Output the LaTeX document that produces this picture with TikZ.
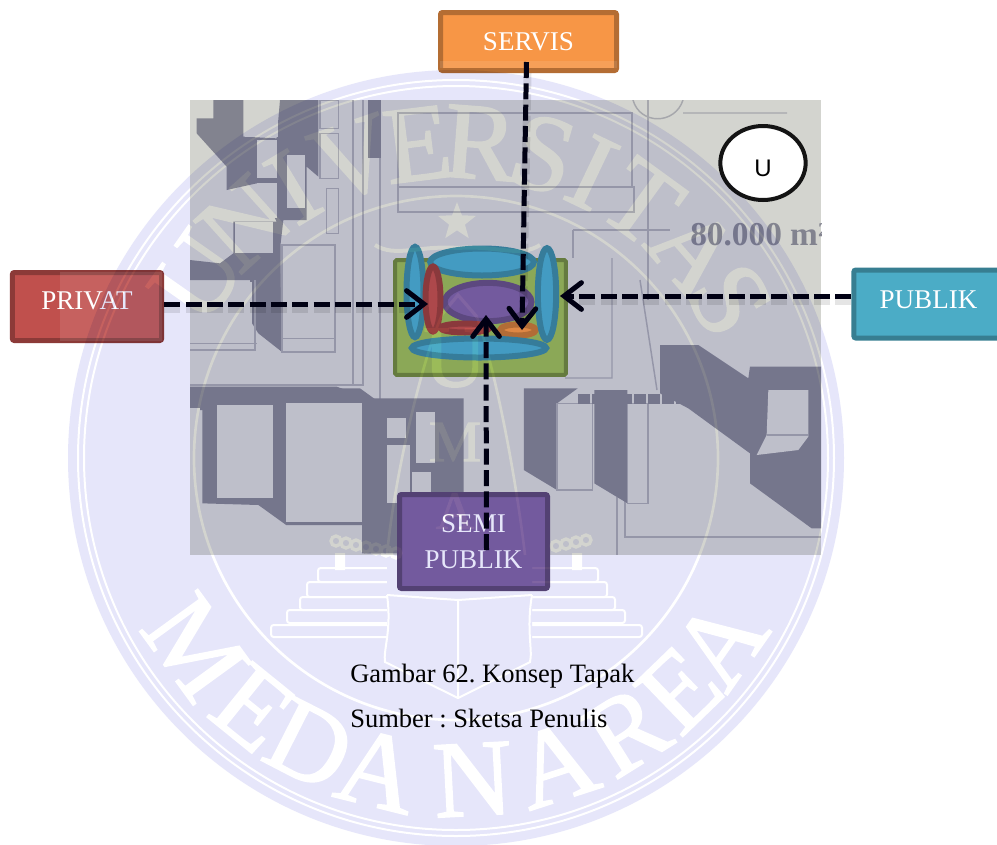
\documentclass[tikz,border=0pt]{standalone}
\usepackage{fontspec}
\setmainfont{Liberation Serif}
\newfontfamily\labelsans{Liberation Sans}
\newfontfamily\wmserif[FakeBold=1.6]{Liberation Serif}
\usepackage{xcolor}
\usepackage{tikz}
\usetikzlibrary{arrows.meta, positioning, calc, shapes.geometric}
\definecolor{photobase}{HTML}{D3D4CF}
\definecolor{photoshade}{HTML}{82838F}
\definecolor{photoline}{HTML}{A6A7AC}
\definecolor{discfill}{HTML}{E6E6FA}
\definecolor{zoneblue}{HTML}{4BACC6}
\definecolor{zonered}{HTML}{C0504D}
\definecolor{zonepurple}{HTML}{8064A2}
\definecolor{zoneorange}{HTML}{F79646}
\definecolor{zonegreen}{HTML}{9BBB59}
\tikzset{
  zonebox/.style={rectangle, rounded corners=1.5pt, line width=3.75pt, text=white,
                  font=\fontsize{20.3}{27}\selectfont, align=center, inner sep=0pt},
  zone/.style={ellipse, line width=4.5pt, inner sep=0pt},
  flow/.style={line width=3.75pt, black!92!blue, dash pattern=on 12pt off 4pt,
               -{Straight Barb[length=13pt, width=20pt, line cap=round]}},
  flowshade/.style={line width=6pt, black, opacity=0.1, dash pattern=on 12pt off 4pt},
  roadline/.style={draw=photoline, line width=1.1pt},
  wmline/.style={draw=white, line width=1.5pt},
  wmletter/.style={text=white, inner sep=0pt, font=\wmserif\fontsize{82}{82}\selectfont},
}
\begin{document}
\frenchspacing
\begin{tikzpicture}[x=0.75pt, y=-0.75pt]
  \useasboundingbox (0,0) rectangle (997,844);
  \clip (0,0) rectangle (997,844);
  \fill[white] (0,0) rectangle (997,844);
  % site photo
  \begin{scope}
  \clip (190,100) rectangle (821,555);
  \fill[photobase] (190,100) rectangle (821,555);
  % roads
  \draw[roadline] (353,100)--(353,385) (363,100)--(363,385) (380,100)--(380,400);
  \draw[roadline] (398,113) rectangle (632,187);
  \draw[roadline] (398,187) rectangle (634,212);
  \draw[roadline] (648,100)--(648,300) (573,230)--(670,230) (573,230)--(573,258);
  \draw[roadline] (612,258)--(612,378)--(565,378) (640,280)--(657,390);
  \draw[roadline] (683,113)--(787,113) (633,100)..controls (640,125) and (675,125)..(683,100);
  \draw[roadline] (625,407)--(625,537)--(821,537) (617,497)--(617,555);
  \draw[roadline] (190,385)--(363,385)--(363,240);
  % top left block
  \begin{scope}[shift={(190,90)}, x=0.25pt, y=-0.25pt]
  \fill[photoshade] (20,85)--(70,85)--(70,30)--(160,30)--(160,140)--(260,145)--(270,30)--(385,30)
    --(385,260)--(350,230)--(350,390)--(280,390)--(272,460)--(272,720)--(215,720)--(180,600)
    --(190,570)--(0,570)--(0,510)--(90,520)--(130,490)--(130,395)--(260,395)--(200,280)
    --(110,300)--(110,230)--(20,130)--cycle;
  \fill[photobase] (165,30) rectangle (265,140);
  \fill[photobase] (200,150) rectangle (260,265);
  \fill[photobase] (200,280) rectangle (260,385);
  \fill[photobase] (290,195) rectangle (345,355);
  \fill[photobase] (135,395) rectangle (250,490);
  \fill[photobase] (285,395) rectangle (400,455);
  \fill[photobase] (0,575) rectangle (185,720);
  \draw[roadline] (390,30) rectangle (445,115);
  \draw[roadline] (390,130) rectangle (445,265);
  \draw[roadline] (410,295) rectangle (445,430);
  \fill[photoshade] (535,30) rectangle (572,205);
  \end{scope}
  % middle left block
  \begin{scope}[shift={(190,230)}, x=0.25pt, y=-0.25pt]
  \fill[photoshade] (180,150)--(270,90)--(275,365)--(205,310)--(180,270)--cycle;
  \fill[photobase] (0,155) rectangle (185,360);
  \fill[photobase] (275,45) rectangle (435,365);
  \draw[roadline, line width=1.5pt] (275,45) rectangle (435,365);
  \draw[roadline] (275,325)--(435,325) (0,340)--(200,340) (195,150)--(195,360)--(0,360);
  \fill[photoshade] (0,470)--(440,470)--(580,520)--(580,540)--(0,540)--cycle;
  \end{scope}
  % lower block
  \begin{scope}[shift={(190,370)}, x=0.311pt, y=-0.25pt]
  \fill[photoshade] (0,55)--(410,55)--(460,100)--(460,550)--(415,550)--(415,465)--(232,465)
    --(165,405)--(30,400)--(30,115)--(0,110)--cycle;
  \fill[photobase] (65,105) rectangle (200,385);
  \fill[photobase] (232,100) rectangle (415,455);
  \fill[photobase] (0,115) rectangle (25,460);
  \fill[photoshade] (420,85)--(660,85)--(660,400)--(610,400)--(610,550)--(420,550)--cycle;
  \fill[photobase] (475,145) rectangle (520,205);
  \fill[photobase] (545,125) rectangle (590,280);
  \fill[photobase] (475,225) rectangle (530,400);
  \fill[photobase] (535,305) rectangle (580,365);
  \fill[photoshade] (805,55)--(935,55)--(885,100)--(885,360)--(805,300)--cycle;
  \fill[photobase] (885,100) rectangle (970,360);
  \fill[photoshade] (975,60)--(1055,60)--(1055,400)--(975,340)--cycle;
  \fill[photobase] (1055,100) rectangle (1105,400);
  \draw[roadline] (885,100) rectangle (970,360) (1055,100) rectangle (1105,400);
  \end{scope}
  % right block
  \begin{scope}[shift={(560,280)}, x=0.25pt, y=-0.25pt]
  \fill[photoshade] (300,195)--(415,195)--(565,295)--(570,260)--(785,260)--(785,745)--(755,745)
    --(570,610)--(570,520)--(385,385)--(300,340)--cycle;
  \fill[photobase] (625,330)--(745,330)--(745,470)--(715,510)--(590,525)--(620,465)--cycle;
  \draw[roadline] (620,465)--(745,465);
  \end{scope}
  \draw[photoshade, line width=7pt, dash pattern=on 9pt off 1.5pt] (578,399)--(715,399);
  \node[photoshade, inner sep=0pt, anchor=west, font=\bfseries\fontsize{25}{25}\selectfont] (arealabel) at (690,235) {80.000 m²};
  \end{scope}
  % site zones
  \node[rectangle, draw=zonegreen!73!black, fill=zonegreen, line width=3pt, rounded corners=1pt,
        minimum width=128pt, minimum height=86pt, inner sep=0pt] (site) at (480.5,317.5) {};
  \node[zone, draw=zoneblue!80!black, fill=zoneblue, minimum width=12.75pt, minimum height=67.75pt] (zleft) at (415,292) {};
  \node[zone, draw=zoneblue!80!black, fill=zoneblue, minimum width=77.75pt, minimum height=20.25pt] (ztop) at (482,262) {};
  \node[zone, draw=zonepurple!80!black, fill=zonepurple, minimum width=65.25pt, minimum height=28.75pt] (zmid) at (488,302) {};
  \node[zone, draw=zonered!80!black, fill=zonered, minimum width=11.25pt, minimum height=48.75pt] (ztall) at (433,299) {};
  \node[zone, draw=zonered!80!black, fill=zonered, minimum width=36.75pt, minimum height=6.75pt] (zflat) at (465,328) {};
  \node[zone, draw=zoneorange!80!black, fill=zoneorange, minimum width=26.75pt, minimum height=8.25pt] (zservice) at (518,330) {};
  \node[zone, draw=zoneblue!80!black, fill=zoneblue, minimum width=100.75pt, minimum height=14.25pt] (zbottom) at (479,348) {};
  \node[zone, draw=zoneblue!80!black, fill=zoneblue, minimum width=13.75pt, minimum height=68.75pt] (zright) at (547,294) {};
  % north mark
  \node[ellipse, draw=black!92, fill=white, line width=3pt, minimum width=64pt, minimum height=55.5pt,
        inner sep=0pt, text height=20pt, text depth=0pt, font=\labelsans\fontsize{18}{18}\selectfont] (north) at (763,163) {U};
  % zone labels
  \node[zonebox, draw=zoneorange!73!black, fill=zoneorange, minimum width=132pt, minimum height=43.5pt] (servis) at (528.5,41.5) {SERVIS};
  \node[zonebox, draw=zonered!73!black, fill=zonered, minimum width=112pt, minimum height=51pt, text depth=8.4pt] (privat) at (87,306.5) {PRIVAT};
  \node[zonebox, draw=zoneblue!73!black, fill=zoneblue, minimum width=112pt, minimum height=51pt, text depth=6.8pt] (publik) at (928.5,304) {PUBLIK};
  \node[zonebox, draw=zonepurple!73!black, fill=zonepurple, minimum width=111pt, minimum height=70.5pt] (semi) at (473.5,541.5) {SEMI\\PUBLIK};
  \fill[white, opacity=0.1] (60,272) rectangle (162,341);
  \fill[white, opacity=0.1] (440,61) rectangle (617,68);
  % flows
  \coordinate (privattip) at (428,304);
  \coordinate (publiktip) at (560,296);
  \coordinate (servistip) at (522,330);
  \coordinate (semitip) at (486,315);
  \draw[flowshade] ($(privat.east |- privattip)+(0,5)$)--($(privattip)+(-12,5)$);
  \draw[flowshade] ($(publik.west |- publiktip)+(0,5)$)--($(publiktip)+(12,5)$);
  \draw[flowshade] ($(servis.south)+(-1,0)$)--($(servistip)+(1,-12)$);
  \draw[flow] (privat.east |- privattip)--(privattip);
  \draw[flow] (publik.west |- publiktip)--(publiktip);
  \draw[flow] ($(servis.south)+(-2,-11)$)--(servistip);
  \draw[flow] ($(semi.south)+(13,-41)$)--(semitip);
  % watermark
  \begin{scope}[blend mode=multiply]
  \begin{scope}[transparency group]
  \fill[discfill] (456,458) circle[radius=388];
  \draw[wmline] (456,458) circle[radius=378];
  \draw[wmline] (456,458) circle[radius=372];
  \draw[wmline, line width=2pt] (456,458) circle[radius=262];
  \foreach \ltr/\ang [count=\i] in {U/145,N/132,I/121,V/109,E/97,R/85.6,S/74,I/64.5,T/54,A/41,S/30}
    \node[wmletter, rotate=\ang-90] (top\i) at ({456+316*cos(\ang)},{458-316*sin(\ang)}) {\ltr};
  \foreach \ltr/\ang [count=\i] in {M/216,E/231,D/243,A/256,N/273,A/288,R/302,E/314,A/325}
    \node[wmletter, rotate=\ang+90] (bot\i) at ({456+322*cos(\ang)},{458-322*sin(\ang)}) {\ltr};
  \node[star, star points=5, star point ratio=2.4, fill=white, minimum size=30pt, inner sep=0pt] (wmstar) at (457,222) {};
  \node[wmletter, font=\wmserif\fontsize{66}{66}\selectfont] (wmu) at (455,358) {U};
  \node[wmletter, font=\wmserif\fontsize{44}{44}\selectfont] (wmm) at (455,442) {M};
  \node[wmletter, font=\wmserif\fontsize{40}{40}\selectfont] (wma) at (455,511) {A};
  % emblem lines
  \draw[wmline, line width=3pt] (375,245)..controls (395,258) and (420,245)..(458,248)..controls (495,245) and (520,258)..(540,245);
  \draw[wmline, line width=2.5pt] (443,313)--(458,295)--(477,317);
  \draw[wmline, line width=2pt] (443,313)..controls (425,350) and (395,470)..(387,555);
  \draw[wmline, line width=2pt] (477,317)..controls (495,370) and (515,470)..(525,555);
  % steps and book
  \foreach \yt/\yb/\xl/\xr in {568/582/318/598, 582/597/307/607, 597/610/300/615, 610/623/287/625, 625/637/271/642}
    \draw[wmline, rounded corners=2pt] (\xl,\yt) rectangle (\xr,\yb);
  \fill[discfill] (387,560) rectangle (532,640);
  \draw[wmline] (387,595)--(458,600)--(532,595);
  \draw[wmline] (458,600)--(458,698);
  \draw[wmline] (387,595)..controls (392,630) and (383,650)..(385,662)--(458,698)--(530,662)..controls (533,650) and (526,630)..(532,595);
  \fill[white] (335,553) rectangle (345,570);
  \fill[white] (572,553) rectangle (582,570);
  \foreach \xb in {336,346,...,400}
    \draw[wmline, line width=2.5pt] (\xb,{541+(\xb-336)*0.2}) circle[radius=5];
  \foreach \xb in {586,576,...,548}
    \draw[wmline, line width=2.5pt] (\xb,{540+(586-\xb)*0.2}) circle[radius=5];
  \end{scope}
  \end{scope}
  % caption
  \node[anchor=base west, inner sep=0pt, font=\fontsize{19.9}{24}\selectfont] (caption) at (350,682) {Gambar 62. Konsep Tapak};
  \node[anchor=base west, inner sep=0pt, font=\fontsize{19.9}{24}\selectfont] (source) at (350,727) {Sumber : Sketsa Penulis};
\end{tikzpicture}
\end{document}
